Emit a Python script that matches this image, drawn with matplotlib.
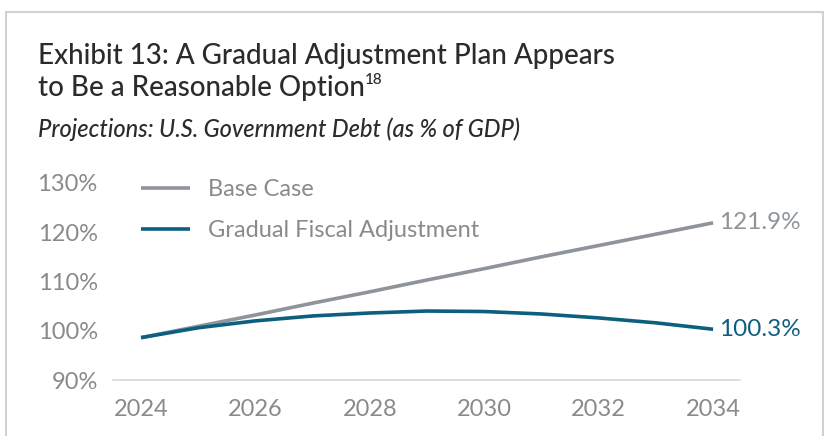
import matplotlib
matplotlib.use("Agg")
import matplotlib.pyplot as plt
from matplotlib.patches import Rectangle

plt.rcParams["font.family"] = ["Lato", "DejaVu Sans"]

YEARS = [2024, 2025, 2026, 2027, 2028, 2029, 2030, 2031, 2032, 2033, 2034]
BASE_CASE = [98.6, 100.9, 103.2, 105.6, 107.9, 110.3, 112.6, 115.0, 117.3, 119.6, 121.9]
GRADUAL = [98.6, 100.6, 102.0, 103.0, 103.6, 104.0, 103.9, 103.4, 102.6, 101.6, 100.3]
X_TICKS = [2024, 2026, 2028, 2030, 2032, 2034]
Y_TICKS = [90, 100, 110, 120, 130]

GREY = "#8e949a"
TEAL = "#0d5f80"
TEXT_GREY = "#8a8a8a"
DARK = "#2b2b2b"

W, H = 830, 436
fig = plt.figure(figsize=(W / 100, H / 100), dpi=100)

# light frame round the exhibit
fig.patches.append(Rectangle((6 / W, -0.05), 817 / W, 1.05 - 12 / H,
                             transform=fig.transFigure, fill=False,
                             edgecolor="#cfd2d5", linewidth=1.5))

ax = fig.add_axes([113 / W, 1 - 380 / H, 627 / W, 202 / H])
ax.plot(YEARS, BASE_CASE, color=GREY, lw=2.6, solid_capstyle="butt", label="Base Case")
ax.plot(YEARS, GRADUAL, color=TEAL, lw=2.6, solid_capstyle="butt", label="Gradual Fiscal Adjustment")

ax.set_xlim(2023.51, 2034.47)
ax.set_ylim(90, 131)
ax.set_xticks(X_TICKS)
ax.set_yticks(Y_TICKS)
ax.set_yticklabels([f"{v}%" for v in Y_TICKS])
ax.tick_params(length=0, labelsize=17, labelcolor=TEXT_GREY)
ax.tick_params(axis="y", pad=11)
ax.tick_params(axis="x", pad=14)
for s in ["top", "right", "left"]:
    ax.spines[s].set_visible(False)
ax.spines["bottom"].set_color("#d5d8db")
ax.spines["bottom"].set_linewidth(1.2)

ax.annotate(f"{BASE_CASE[-1]}%", (YEARS[-1], BASE_CASE[-1]), xytext=(4, 0),
            textcoords="offset points", va="center", ha="left",
            fontsize=17.5, color=GREY, annotation_clip=False)
ax.annotate(f"{GRADUAL[-1]}%", (YEARS[-1], GRADUAL[-1]), xytext=(4, 0),
            textcoords="offset points", va="center", ha="left",
            fontsize=17.5, color=TEAL, annotation_clip=False)

leg = ax.legend(loc="upper left", bbox_to_anchor=(0.01, 1.1), frameon=False,
                fontsize=17, handlelength=2.1, handletextpad=0.75,
                labelspacing=0.85, labelcolor=TEXT_GREY)

fig.text(38 / W, 1 - 64 / H, "Exhibit 13: A Gradual Adjustment Plan Appears",
         fontsize=20, color=DARK, va="baseline", fontweight="medium")
t2 = fig.text(38 / W, 1 - 96 / H, "to Be a Reasonable Option",
              fontsize=20, color=DARK, va="baseline", fontweight="medium")
fig.canvas.draw()
bb = t2.get_window_extent(fig.canvas.get_renderer())
fig.text(bb.x1 / W, 1 - 84 / H, "18", fontsize=11, color=DARK, va="baseline",
         fontweight="medium")
fig.text(38 / W, 1 - 137 / H, "Projections: U.S. Government Debt (as % of GDP)",
         fontsize=17, color=DARK, style="italic", va="baseline", fontweight="medium")

fig.savefig("out.png", dpi=100)
